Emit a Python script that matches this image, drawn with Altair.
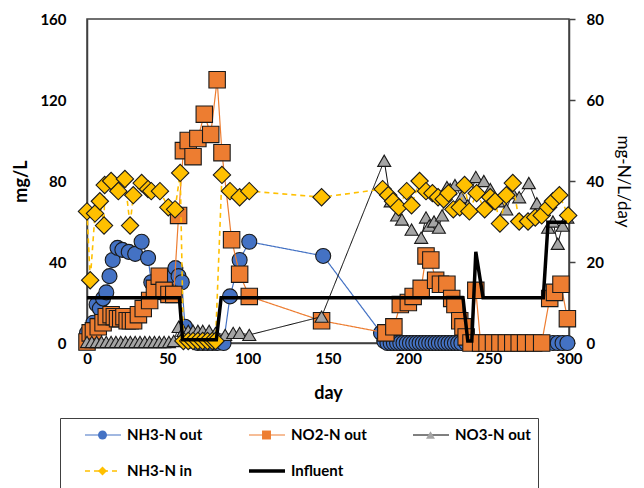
import altair as alt
import pandas as pd

# ---------------- data ----------------
nh3_out_day = [0, 2, 4, 6, 8, 10, 12, 14, 16, 19, 22, 26, 30, 34, 38, 40, 43, 46, 49, 52,
               55, 57, 59, 61, 63, 66, 69, 72, 75, 78, 81, 85, 89, 95, 101, 147, 183,
               185, 187, 189, 191, 193, 195, 197, 199, 201, 203, 205, 207, 209, 211, 213,
               215, 217, 219, 221, 223, 225, 227, 229, 231, 233, 236, 240, 245, 250, 255,
               260, 265, 270, 275, 280, 285, 290, 293, 296, 299]
nh3_out_val = [5, 3, 10, 19, 17, 22, 25, 33, 41, 47, 46, 45, 44, 50, 42, 30, 27, 25, 28, 32,
               37, 33, 30, 8, 2, 1, 0, 0, 0, 0, 0, 0, 23, 41, 50, 43, 5,
               1, 0, 0, 0, 0, 0, 0, 0, 0, 0, 0, 0, 0, 0, 0,
               0, 0, 0, 0, 0, 0, 0, 0, 0, 0, 0, 0, 0, 0, 0,
               0, 0, 0, 0, 0, 0, 0, 0, 0, 0]

no2_out_day = [0, 2, 4, 7, 10, 12, 15, 17, 19, 21, 23, 25, 27, 29, 32, 35, 39, 42, 45, 48,
               51, 54, 57, 60, 63, 66, 69, 73, 77, 81, 84, 90, 95, 101, 146, 186, 191,
               195, 200, 203, 208, 211, 214, 217, 220, 224, 227, 229, 232, 234, 236, 239,
               242, 245, 249, 253, 257, 261, 265, 269, 273, 278, 283, 288, 291, 295, 299]
no2_out_val = [0.5, 5, 6, 8, 10, 13, 14, 13, 12, 12, 13, 11, 11, 11, 14, 17, 21, 27, 33, 26,
               24, 24, 63, 95, 100, 92, 101, 113, 103, 130, 94, 51, 34, 23, 11, 5, 8,
               19, 20, 23, 27, 43, 41, 31, 29, 29, 22, 19, 11, 8, 3, 0,
               26, 0, 0, 0, 0, 0, 0, 0, 0, 0, 0, 22, 25, 29, 12]

no3_out_day = [0, 3, 6, 9, 12, 15, 18, 21, 24, 27, 30, 33, 36, 39, 42, 45, 48, 51, 54, 57,
               60, 63, 66, 69, 72, 76, 80, 86, 91, 95, 101, 146, 185, 189, 193, 196, 202,
               208, 211, 213, 216, 219, 221, 224, 226, 229, 233, 237, 242, 247, 251, 256,
               261, 265, 269, 275, 280, 284, 287, 290, 293, 296, 299]
no3_out_val = [0.5, 0.5, 0.5, 0.5, 0.5, 0.5, 0.5, 0.5, 0.5, 0.5, 0.5, 0.5, 0.5, 0.5, 0.5, 0.5, 0.5, 0.5, 1, 8,
               6, 6, 6, 6, 6, 6, 5, 4, 5, 5, 4, 13, 90, 70, 63, 61, 56,
               52, 62, 58, 60, 57, 63, 77, 76, 78, 72, 68, 82, 80, 76, 70,
               66, 74, 72, 79, 69, 66, 57, 60, 49, 58, 62]

nh3_in_day = [0, 2, 5, 8, 10.6, 11, 15, 19.5, 23.6, 26.8, 28.8, 34, 38, 40, 45.4, 50.6, 54.8,
              58, 60, 63, 66, 69, 72, 75, 78, 80, 84, 89, 95, 101, 146, 184, 187.5, 190.5,
              194, 199, 202, 207, 211, 215, 218.5, 222, 225, 228, 232, 235, 238, 242.5,
              247.5, 251, 254, 257, 261, 265, 269, 274.5, 279, 283, 287, 290, 294, 299.5]
nh3_in_val = [65, 31, 64, 70, 58, 78, 80, 75, 81, 58, 73, 79, 76, 75, 75, 67, 66,
              84, 1, 1, 1, 1, 1, 1, 1, 1, 83, 75, 72, 75, 72, 76, 73, 70,
              67, 75, 68, 80, 75, 74, 72, 71, 74, 66, 67, 78, 65, 74,
              66, 72, 70, 59, 73, 79, 60, 60, 62, 63, 67, 70, 73, 63]

influent_day = [0, 57.5, 59.5, 80.5, 83.5, 234, 237, 239.5, 242, 246.5, 284, 287, 298.5]
influent_val = [11.2, 11.2, 0.8, 0.8, 11.2, 11.2, 0.5, 0.5, 22.5, 11.2, 11.2, 29.8, 29.8]

series_names = ["NH3-N out", "NO2-N out", "NO3-N out", "NH3-N in", "Influent"]
marker_names = series_names[:4]

# ---------------- styles ----------------
line_colors = ["#4472C4", "#ED7D31", "#000000", "#FFC000", "#000000"]
line_dashes = [[1, 0], [1, 0], [1, 0], [5, 4], [1, 0]]
line_widths = [1.2, 1.2, 1.0, 1.6, 3.5]
fill_colors = ["#4472C4", "#ED7D31", "#A5A5A5", "#FFC000"]
shapes = ["circle", "square", "triangle-up", "diamond"]
marker_sizes = [225, 270, 170, 300]

FONT = "Lato"

frames = []
for name, d, v in [("NH3-N out", nh3_out_day, nh3_out_val),
                   ("NO2-N out", no2_out_day, no2_out_val),
                   ("NO3-N out", no3_out_day, no3_out_val),
                   ("NH3-N in", nh3_in_day, nh3_in_val)]:
    frames.append(pd.DataFrame({"day": d, "value": v, "series": name}))
df_left = pd.concat(frames, ignore_index=True)
df_inf = pd.DataFrame({"day": influent_day, "value": influent_val, "series": "Influent"})

legend_common = dict(orient="none", legendX=-27, legendY=399, columns=3, direction="horizontal",
                     title=None, clipHeight=20, padding=7, rowPadding=16,
                     gridAlign="all", labelFont=FONT, labelFontSize=15,
                     labelFontWeight="bold", labelColor="black", labelLimit=200)

legA = alt.Legend(symbolType="stroke", symbolSize=1296, strokeColor="#404040",
                  symbolOffset=16, labelOffset=4, columnPadding=28, zindex=1,
                  **legend_common)
legB = alt.Legend(symbolSize=80, symbolStrokeColor="#1a1a1a", symbolStrokeWidth=1,
                  symbolOffset=28, labelOffset=0, columnPadding=121, labelExpr="''",
                  zindex=2, **legend_common)

x_axis = alt.Axis(values=[0, 50, 100, 150, 200, 250, 300], ticks=False, tickSize=0,
                  labelFlush=False, labelOverlap=False,
                  labelPadding=8, labelFont=FONT, labelFontSize=15, labelFontWeight="bold",
                  labelColor="black", grid=False, domainColor="#404040", domainWidth=1.5,
                  title="day", titleFont=FONT, titleFontSize=18, titleFontWeight="bold",
                  titleColor="black", titleX=241, titleY=50, titleBaseline="middle",
                  titleAlign="center")
yl_axis = alt.Axis(orient="left", values=[0, 40, 80, 120, 160], ticks=False, tickSize=0,
                   labelPadding=21, labelFont=FONT, labelFontSize=15, labelFontWeight="bold",
                   labelColor="black", grid=False, domainColor="#404040", domainWidth=1.5,
                   title="mg/L", titleFont=FONT, titleFontSize=18, titleFontWeight="bold",
                   titleColor="black", titleAngle=270, titleX=-66, titleY=162,
                   titleBaseline="middle", titleAlign="center")
yr_axis = alt.Axis(orient="right", values=[0, 20, 40, 60, 80], ticks=True, tickSize=6,
                   tickColor="#404040", tickWidth=1.5, labelPadding=11, labelFont=FONT,
                   labelFontSize=15, labelFontWeight="bold", labelColor="black", grid=False,
                   domainColor="#404040", domainWidth=1.5,
                   title="mg-N/L/day", titleFont=FONT, titleFontSize=17,
                   titleFontWeight="normal", titleColor="black", titleAngle=90,
                   titleX=53, titleY=162, titleBaseline="middle", titleAlign="center")

x_enc = alt.X("day:Q", scale=alt.Scale(domain=[0, 300], nice=False, zero=False), axis=x_axis)
yl_enc = alt.Y("value:Q", scale=alt.Scale(domain=[0, 160], nice=False), axis=yl_axis)
yr_enc = alt.Y("value:Q", scale=alt.Scale(domain=[0, 80], nice=False), axis=yr_axis)

stroke_enc = alt.Stroke("series:N", scale=alt.Scale(domain=series_names, range=line_colors),
                        legend=legA)
dash_enc = alt.StrokeDash("series:N", scale=alt.Scale(domain=series_names, range=line_dashes),
                          legend=legA)
sw_enc = alt.StrokeWidth("series:O", scale=alt.Scale(type="ordinal", domain=series_names,
                                                     range=line_widths), legend=legA)
shape_enc = alt.Shape("series:N", scale=alt.Scale(domain=marker_names, range=shapes),
                      legend=legB)
fill_enc = alt.Fill("series:N", scale=alt.Scale(domain=marker_names, range=fill_colors),
                    legend=legB)

base = alt.Chart(df_left)
left_layers = []
for i, name in enumerate(marker_names):
    sub = base.transform_filter(alt.datum.series == name)
    left_layers.append(
        sub.mark_line().encode(x=x_enc, y=yl_enc, stroke=stroke_enc,
                               strokeDash=dash_enc, strokeWidth=sw_enc)
    )
    left_layers.append(
        sub.mark_point(filled=True, size=marker_sizes[i], stroke="#1a1a1a",
                       strokeWidth=1.1, opacity=1)
        .encode(x=x_enc, y=yl_enc, shape=shape_enc, fill=fill_enc)
    )
left = alt.layer(*left_layers)

inf = alt.Chart(df_inf).mark_line(strokeJoin="miter").encode(
    x=x_enc, y=yr_enc, stroke=stroke_enc, strokeDash=dash_enc, strokeWidth=sw_enc
)

chart = (
    alt.layer(left, inf)
    .resolve_scale(y="independent")
    .properties(width=482, height=324, autosize=alt.AutoSizeParams(type="none"),
                padding={"left": 87, "top": 19, "right": 75, "bottom": 145},
                background="white")
    .configure_view(stroke="#404040", strokeWidth=1.5)
)

chart.save("out.html", embed_options={"renderer": "svg", "actions": False})
